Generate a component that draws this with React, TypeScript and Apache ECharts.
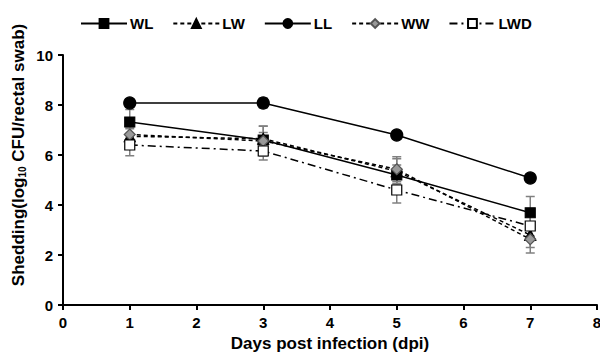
import React, { useEffect, useRef } from "react";
import * as echarts from "echarts";

const days = [1, 3, 5, 7];
const seriesNames = ["WL", "LW", "LL", "WW", "LWD"];
const WL = [7.32, 6.6, 5.2, 3.69];
const LW = [6.75, 6.65, 5.35, 2.8];
const LL = [8.08, 8.08, 6.8, 5.08];
const WW = [6.82, 6.56, 5.43, 2.63];
const LWD = [6.4, 6.16, 4.6, 3.16];
const WL_err = [0.5, 0.3, 0.4, 0.65];
const LW_err = [0.3, 0.5, 0.5, 0.5];
const LL_err = [0.15, 0.2, 0.15, 0.15];
const WW_err = [0.3, 0.6, 0.5, 0.55];
const LWD_err = [0.43, 0.36, 0.52, 0.4];
const xTicks = [0, 8];
const yTicks = [0, 10];
const yTitle = "Shedding(log{sub|10} CFU/rectal swab)";
const xTitle = "Days post infection (dpi)";

export default function App() {
  const ref = useRef<HTMLDivElement>(null);
  useEffect(() => {
    const chart = echarts.init(ref.current!, null, { renderer: "svg" });
    const values = [WL, LW, LL, WW, LWD];
    const errs = [WL_err, LW_err, LL_err, WW_err, LWD_err];
    const styles: any[] = [
      { symbol: "rect", size: 10, color: "#000", border: "#000", type: "solid" },
      { symbol: "triangle", size: 11, color: "#000", border: "#000", type: [4, 3] },
      { symbol: "circle", size: 12, color: "#000", border: "#000", type: "solid" },
      { symbol: "diamond", size: 11, color: "#999", border: "#555", type: [4, 3] },
      { symbol: "rect", size: 10, color: "#fff", border: "#000", type: [8, 4, 2, 4] },
    ];
    const errData: any[] = [];
    values.forEach((v, i) => {
      v.forEach((y, j) => {
        errData.push([days[j], y - errs[i][j], y + errs[i][j]]);
      });
    });
    const errSeries = {
      type: "custom",
      name: "err",
      z: 1,
      silent: true,
      renderItem: (params: any, api: any) => {
        const x = api.value(0);
        const lo = api.coord([x, api.value(1)]);
        const hi = api.coord([x, api.value(2)]);
        const w = 4.5;
        const st = { stroke: "#808080", lineWidth: 1.5 };
        return {
          type: "group",
          children: [
            { type: "line", shape: { x1: lo[0], y1: lo[1], x2: hi[0], y2: hi[1] }, style: st },
            { type: "line", shape: { x1: lo[0] - w, y1: lo[1], x2: lo[0] + w, y2: lo[1] }, style: st },
            { type: "line", shape: { x1: hi[0] - w, y1: hi[1], x2: hi[0] + w, y2: hi[1] }, style: st },
          ],
        };
      },
      data: errData,
    };
    const lineSeries = seriesNames.map((name, i) => ({
      type: "line",
      name,
      z: 3,
      data: days.map((d, j) => [d, values[i][j]]),
      symbol: styles[i].symbol,
      symbolSize: styles[i].size,
      showAllSymbol: true,
      lineStyle: { color: "#000", width: 1.5, type: styles[i].type },
      itemStyle: { color: styles[i].color, borderColor: styles[i].border, borderWidth: 1.2, opacity: 1 },
    }));
    chart.setOption({
      animation: false,
      textStyle: { fontFamily: "Liberation Sans, Arial, sans-serif" },
      legend: {
        data: seriesNames,
        top: 16,
        left: 80,
        padding: 0,
        itemWidth: 46,
        itemHeight: 11,
        itemGap: 19,
        textStyle: { fontSize: 15, fontWeight: "bold", color: "#000", padding: [0, 0, 0, -2] },
      },
      graphic: [
        {
          type: "text",
          x: 18,
          y: 155,
          rotation: Math.PI / 2,
          style: {
            text: yTitle,
            fontFamily: "Liberation Sans, Arial, sans-serif",
            fontSize: 17,
            fontWeight: "bold",
            fill: "#000",
            align: "center",
            verticalAlign: "middle",
            rich: {
              sub: { fontSize: 10, fontWeight: "bold", fill: "#000", padding: [8, 0, 0, 0] },
            },
          },
        },
      ],
      grid: { left: 63, right: 3, top: 55, bottom: 53, containLabel: false, outerBoundsMode: "none" },
      xAxis: {
        type: "value",
        min: xTicks[0],
        max: xTicks[1],
        interval: 1,
        name: xTitle,
        nameLocation: "middle",
        nameGap: 29,
        nameTextStyle: { fontSize: 17, fontWeight: "bold", color: "#000" },
        axisLine: { lineStyle: { color: "#000", width: 2 } },
        axisTick: { show: true, length: 5, lineStyle: { color: "#000", width: 2 } },
        axisLabel: { fontSize: 15, fontWeight: "bold", color: "#000", margin: 10 },
        splitLine: { show: false },
      },
      yAxis: {
        type: "value",
        min: yTicks[0],
        max: yTicks[1],
        interval: 2,
        axisLine: { lineStyle: { color: "#000", width: 2 } },
        axisTick: { show: true, length: 5, lineStyle: { color: "#000", width: 2 } },
        axisLabel: { fontSize: 15, fontWeight: "bold", color: "#000", margin: 10 },
        splitLine: { show: false },
      },
      series: [errSeries, ...lineSeries],
    });
    return () => chart.dispose();
  }, []);
  return <div ref={ref} style={{ width: 600, height: 358, position: "absolute", left: 0, top: 0, background: "#fff" }} />;
}
